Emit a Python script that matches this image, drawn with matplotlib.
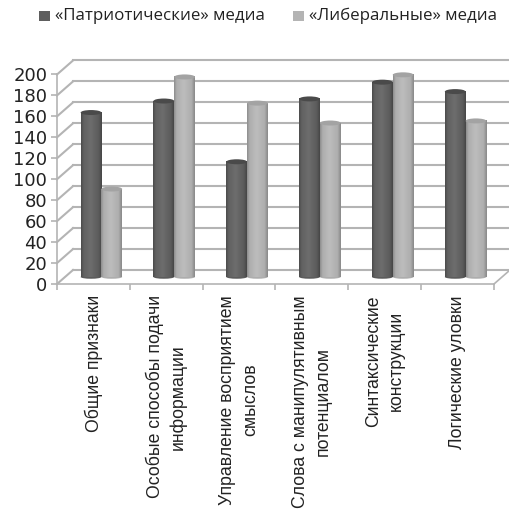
#!/usr/bin/env python3
"""Two-series cylinder-style column chart, faked 3D with offset transforms."""

import numpy as np
import matplotlib

matplotlib.use("Agg")
import matplotlib.pyplot as plt
from matplotlib.colors import to_hex
from matplotlib.patches import Ellipse, Rectangle
from matplotlib.transforms import ScaledTranslation

plt.rcParams["font.family"] = ["Open Sans", "DejaVu Sans"]

CATEGORIES = [
    "Общие признаки",
    "Особые способы подачи\nинформации",
    "Управление восприятием\nсмыслов",
    "Слова с манипулятивным\nпотенциалом",
    "Синтаксические\nконструкции",
    "Логические уловки",
]
PATRIOTIC = [157, 168, 110, 170, 186, 177]
LIBERAL = [84, 191, 166, 147, 193, 149]
SERIES_NAMES = ["«Патриотические» медиа", "«Либеральные» медиа"]
Y_TICKS = list(range(0, 201, 20))

W, H, DPI = 509, 509, 100
LEFT, RIGHT, BOTTOM, TOP = 57, 494, 284, 74.5
DEPTH_X, DEPTH_Y = 16, 14
GRID = "#b4b4b4"
TEXT = "#222222"
BAR_WIDTH = 0.285


def shifted(ax, fig, frac):
    return ax.transData + ScaledTranslation(
        DEPTH_X * frac / DPI, DEPTH_Y * frac / DPI, fig.dpi_scale_trans
    )


def cylinder(ax, fig, x, value, shades, top_color):
    trans = shifted(ax, fig, 0.5)
    ramp = np.interp(np.linspace(0, 1, 40), [0, 0.12, 0.45, 0.85, 1], shades)[None, :]
    ax.imshow(
        ramp,
        extent=(x, x + BAR_WIDTH, 0, value),
        cmap="gray",
        vmin=0,
        vmax=1,
        aspect="auto",
        transform=trans,
        zorder=3,
        clip_on=False,
    )
    px = 200 / (BOTTOM - TOP)
    centre = x + BAR_WIDTH / 2
    ax.add_patch(Ellipse((centre, 0), BAR_WIDTH, 3.5 * px, color=to_hex([shades[3]] * 3),
                         transform=trans, zorder=2.9, clip_on=False, lw=0))
    ax.add_patch(Ellipse((centre, value), BAR_WIDTH, 5 * px, color=top_color,
                         transform=trans, zorder=3.1, clip_on=False, lw=0))


fig = plt.figure(figsize=(W / DPI, H / DPI), dpi=DPI)
ax = fig.add_axes([LEFT / W, 1 - BOTTOM / H, (RIGHT - LEFT) / W, (BOTTOM - TOP) / H])
n = len(CATEGORIES)
ax.patch.set_visible(False)
ax.spines[["top", "right"]].set_visible(False)
ax.spines[["left", "bottom"]].set_color(GRID)
ax.spines[["left", "bottom"]].set_linewidth(1.2)

# back wall and left wall gridlines
back = shifted(ax, fig, 1.0)
dx = DEPTH_X / (RIGHT - LEFT) * n
dy = DEPTH_Y * 200 / (BOTTOM - TOP)
for tick in Y_TICKS:
    ax.plot([0, n + 0.2], [tick, tick], color=GRID, lw=1.5, transform=back, clip_on=False, zorder=1)
    ax.plot([0, dx], [tick, tick + dy], color=GRID, lw=1.5, clip_on=False, zorder=1)
# floor edge on the right
ax.plot([n, n + dx], [0, dy], color=GRID, lw=1.2, clip_on=False, zorder=1)

for i in range(n):
    start = i + 0.5 - BAR_WIDTH
    cylinder(ax, fig, start, PATRIOTIC[i], [0.30, 0.38, 0.43, 0.36, 0.28], "#4a4a4a")
    cylinder(ax, fig, start + BAR_WIDTH, LIBERAL[i], [0.56, 0.68, 0.74, 0.68, 0.54], "#a3a3a3")
ax.set_xlim(0, n)
ax.set_ylim(0, 200)

ax.set_yticks(Y_TICKS)
ax.set_xticks(range(n + 1))
ax.set_xticklabels([])
ax.tick_params(axis="both", color=GRID, width=1.2, length=4, labelcolor=TEXT, pad=3)
for label in ax.get_yticklabels():
    label.set_fontfamily("DejaVu Sans")
    label.set_fontsize(13)
for i, label in enumerate(CATEGORIES):
    ax.annotate(label, xy=(i + 0.5, 0), xytext=(0, -8), xycoords="data", textcoords="offset points",
                rotation=90, ha="center", va="top", multialignment="center",
                fontsize=12.7, family="Liberation Sans", color=TEXT, linespacing=1.42,
                annotation_clip=False)

# legend
for x_pos, color, name in zip((39, 293), ("#5e5e5e", "#b4b4b4"), SERIES_NAMES):
    fig.add_artist(Rectangle((x_pos / W, 1 - 21 / H), 10.5 / W, 10.5 / H, color=color, lw=0,
                             transform=fig.transFigure))
    fig.text((x_pos + 16) / W, 1 - 15.5 / H, name, fontsize=12.2, color=TEXT, va="center")

fig.savefig("out.png", dpi=DPI)
